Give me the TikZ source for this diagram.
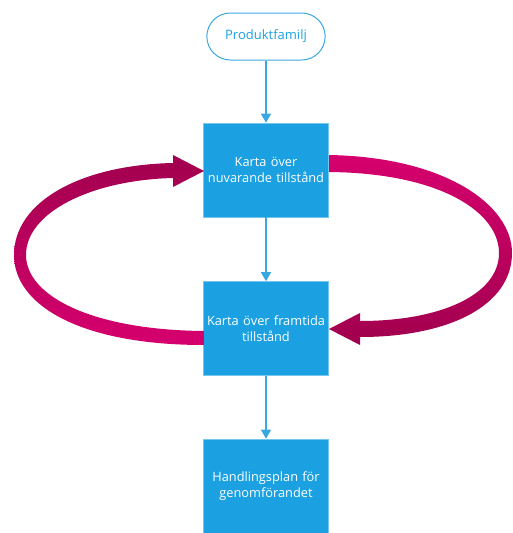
\documentclass[tikz,border=0pt]{standalone}
\usepackage{fontspec}
\setmainfont{Open Sans}
\usetikzlibrary{arrows.meta,shapes.misc}
\definecolor{boxblue}{HTML}{1BA1E2}
\definecolor{lineblue}{HTML}{3AA8E0}
\definecolor{ringlight}{HTML}{D6006E}
\definecolor{ringdark}{HTML}{A1004E}
\tikzset{
  stepbox/.style={rectangle, fill=boxblue, draw=boxblue!60!white, line width=0.6pt,
    minimum width=125pt, minimum height=94pt, text width=124pt, align=center,
    text=white, font=\fontsize{12.8}{16.5}\selectfont, inner sep=0pt},
  startbox/.style={rounded rectangle, draw=lineblue, line width=1pt, fill=white,
    minimum width=125pt, minimum height=47pt, text=boxblue,
    font=\fontsize{13}{16}\selectfont},
  flow/.style={draw=lineblue, line width=1.2pt, -{Triangle[width=10pt,length=9pt]}},
}
\begin{document}
\begin{tikzpicture}[x=1pt,y=-1pt]
\useasboundingbox (0,0) rectangle (513,533);

% boxes
\node[startbox] (pf) at (266,36.5) {Produktfamilj};
\node[stepbox] (nu) at (266,170) {Karta över\\nuvarande tillstånd};
\node[stepbox] (fr) at (266,328.5) {Karta över framtida\\tillstånd};
\node[stepbox] (hp) at (266,486) {Handlingsplan för\\genomförandet};

% vertical flow
\draw[flow] (pf.south) -- (nu.north);
\draw[flow] (nu.south) -- (fr.north);
\draw[flow] (fr.south) -- (hp.north);

% left half of the cycle: from the future state back up to the current state
\shade[top color=ringdark, middle color=ringlight, bottom color=ringlight]
  (204,345) .. controls (80,345) and (14,305) .. (14,255)
  .. controls (14,202) and (80,165) .. (173,163)
  -- (173,155) -- (204,171) -- (173,187) -- (173,178)
  .. controls (92,180) and (26,212) .. (26,255)
  .. controls (26,296) and (92,330) .. (204,331) -- cycle;

% right half of the cycle: from the current state down to the future state
\shade[top color=ringlight, middle color=ringlight, bottom color=ringdark]
  (329,155) .. controls (445,157) and (512,205) .. (512,253)
  .. controls (512,305) and (450,337) .. (360,337)
  -- (360,345) -- (329,329) -- (360,313) -- (360,321)
  .. controls (440,321) and (499,295) .. (499,253)
  .. controls (499,212) and (440,173) .. (329,172) -- cycle;
\end{tikzpicture}
\end{document}
